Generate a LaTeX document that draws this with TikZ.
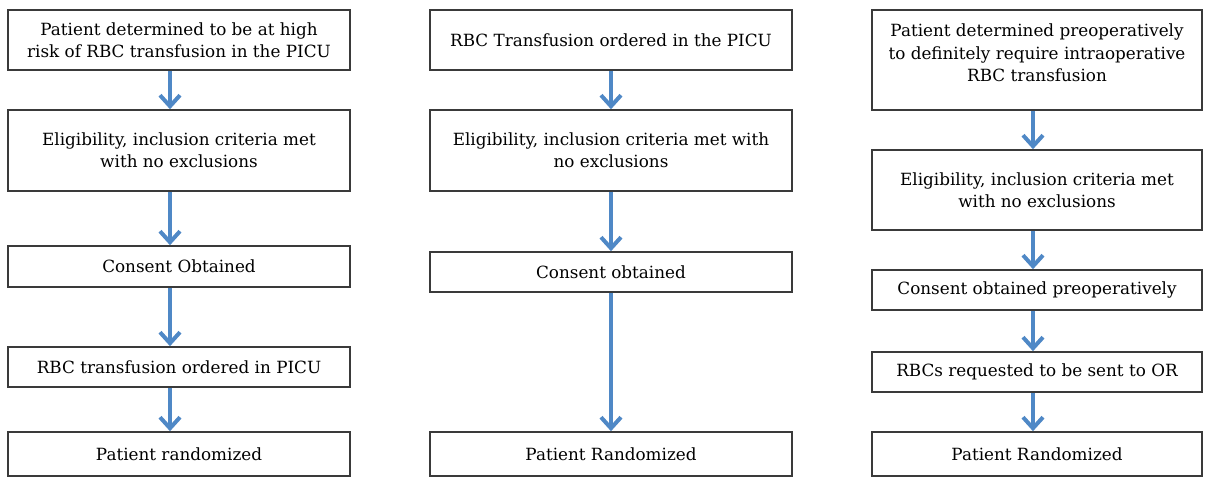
\documentclass[tikz,border=0pt]{standalone}
\usepackage{fontspec}
\setmainfont{DejaVu Serif}
\usetikzlibrary{arrows.meta}
\definecolor{Flow}{HTML}{4F88C6}
\definecolor{Frame}{HTML}{3A3A3A}

\begin{document}
\begin{tikzpicture}[x=0.5pt,y=-0.5pt,
    stepbox/.style={draw=Frame,line width=0.8pt,fill=white,align=center,
      inner sep=0pt,font=\fontsize{8.4pt}{11.2pt}\selectfont},
    flow/.style={draw=Flow,line width=2pt,
      -{Straight Barb[length=5.5pt,width=10pt,line width=2pt]}}]
    \useasboundingbox (0,0) rectangle (1207,477);
    % PICU, high risk
    \node[stepbox,minimum width=171pt,minimum height=30pt] (a1) at (179,40)
      {Patient determined to be at high\\risk of RBC transfusion in the PICU};
    \node[stepbox,minimum width=171pt,minimum height=40.5pt] (a2) at (179,150.5)
      {Eligibility, inclusion criteria met\\with no exclusions};
    \node[stepbox,minimum width=171pt,minimum height=20.5pt] (a3) at (179,266.5)
      {Consent Obtained};
    \node[stepbox,minimum width=171pt,minimum height=20pt] (a4) at (179,367)
      {RBC transfusion ordered in PICU};
    \node[stepbox,minimum width=171pt,minimum height=22pt] (a5) at (179,454)
      {Patient randomized};
    % PICU, transfusion ordered
    \node[stepbox,minimum width=181pt,minimum height=30pt] (b1) at (611,40)
      {RBC Transfusion ordered in the PICU};
    \node[stepbox,minimum width=181pt,minimum height=40.5pt] (b2) at (611,150.5)
      {Eligibility, inclusion criteria met with\\no exclusions};
    \node[stepbox,minimum width=181pt,minimum height=20pt] (b3) at (611,272)
      {Consent obtained};
    \node[stepbox,minimum width=181pt,minimum height=22pt] (b5) at (611,454)
      {Patient Randomized};
    % operating room
    \node[stepbox,minimum width=165pt,minimum height=50pt] (c1) at (1037,60)
      {Patient determined preoperatively\\to definitely require intraoperative\\RBC transfusion\\[-4pt]};
    \node[stepbox,minimum width=165pt,minimum height=40pt] (c2) at (1037,190)
      {Eligibility, inclusion criteria met\\with no exclusions};
    \node[stepbox,minimum width=165pt,minimum height=20pt] (c3) at (1037,290)
      {Consent obtained preoperatively};
    \node[stepbox,minimum width=165pt,minimum height=20pt] (c4) at (1037,372)
      {RBCs requested to be sent to OR};
    \node[stepbox,minimum width=165pt,minimum height=22pt] (c5) at (1037,454)
      {Patient Randomized};

    \foreach \from/\to/\dx in {a1/a2/-4.5,a2/a3/-4.5,a3/a4/-4.5,a4/a5/-4.5,
        b1/b2/0,b2/b3/0,b3/b5/0,c1/c2/-2,c2/c3/-2,c3/c4/-2,c4/c5/-2}
      \draw[flow] ([xshift=\dx pt]\from.south) -- ([xshift=\dx pt]\to.north);
  \end{tikzpicture}
\end{document}
